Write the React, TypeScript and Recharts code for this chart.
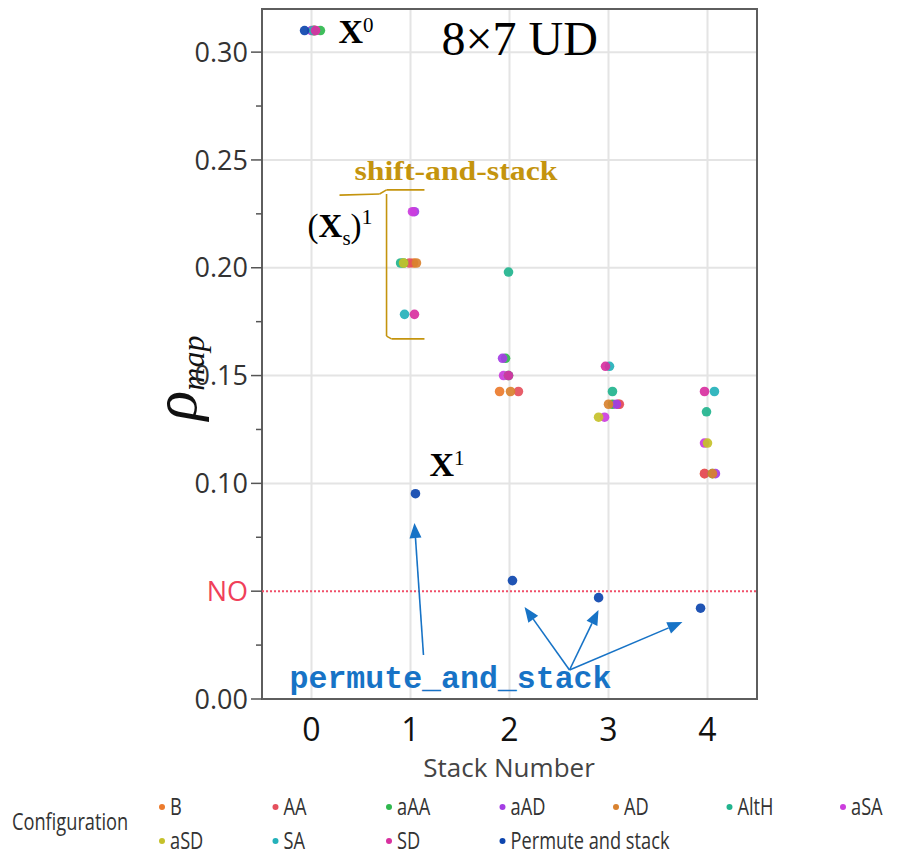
import React from 'react'
import {
  ScatterChart,
  Scatter,
  XAxis,
  YAxis,
  CartesianGrid,
  ReferenceLine,
  ReferenceArea,
  ReferenceDot
} from 'recharts'

// axis ticks
const STACK_TICKS = [0, 1, 2, 3, 4]
const RHO_TICKS = [0, 0.025, 0.05, 0.075, 0.1, 0.125, 0.15, 0.175, 0.2, 0.225, 0.25, 0.275, 0.3]
const RHO_MAJOR = [0, 0.05, 0.1, 0.15, 0.2, 0.25, 0.3]
const RHO_GRID = [0.1, 0.15, 0.2, 0.25, 0.3]
const NO_LEVEL = 0.05

// one point per stack number (x is stack + jitter)
const B = [{ x: 0.02, y: 0.31 }, { x: 1.03, y: 0.2022 }, { x: 1.9, y: 0.1426 }, { x: 3.1, y: 0.1367 }, { x: 3.97, y: 0.1045 }]
const AA = [{ x: 0.03, y: 0.31 }, { x: 0.99, y: 0.2022 }, { x: 2.09, y: 0.1426 }, { x: 3.11, y: 0.1367 }, { x: 3.97, y: 0.1045 }]
const aAA = [{ x: 0.09, y: 0.31 }, { x: 0.93, y: 0.2022 }, { x: 1.96, y: 0.158 }, { x: 3.04, y: 0.1367 }, { x: 4.05, y: 0.1045 }]
const aAD = [{ x: 0.0, y: 0.31 }, { x: 1.04, y: 0.226 }, { x: 1.93, y: 0.158 }, { x: 3.08, y: 0.1367 }, { x: 4.08, y: 0.1045 }]
const AD = [{ x: 0.02, y: 0.31 }, { x: 1.06, y: 0.2022 }, { x: 2.01, y: 0.1426 }, { x: 3.0, y: 0.1367 }, { x: 4.05, y: 0.1045 }]
const AltH = [{ x: 0.03, y: 0.31 }, { x: 0.9, y: 0.2022 }, { x: 1.99, y: 0.198 }, { x: 3.04, y: 0.1426 }, { x: 3.99, y: 0.1332 }]
const aSA = [{ x: 0.04, y: 0.31 }, { x: 1.02, y: 0.226 }, { x: 1.94, y: 0.15 }, { x: 2.96, y: 0.1307 }, { x: 3.97, y: 0.1187 }]
const aSD = [{ x: 0.03, y: 0.31 }, { x: 0.93, y: 0.2022 }, { x: 1.99, y: 0.15 }, { x: 2.9, y: 0.1307 }, { x: 4.0, y: 0.1187 }]
const SA = [{ x: 0.02, y: 0.31 }, { x: 0.94, y: 0.1784 }, { x: 1.99, y: 0.15 }, { x: 3.01, y: 0.1543 }, { x: 4.07, y: 0.1426 }]
const SD = [{ x: 0.04, y: 0.31 }, { x: 1.04, y: 0.1784 }, { x: 1.99, y: 0.15 }, { x: 2.97, y: 0.1543 }, { x: 3.97, y: 0.1426 }]
const PERMUTE = [{ x: -0.07, y: 0.31 }, { x: 1.05, y: 0.0952 }, { x: 2.03, y: 0.0549 }, { x: 2.9, y: 0.047 }, { x: 3.93, y: 0.0421 }]

const SERIES = [
  { name: 'B', color: '#ec7b2c', data: B },
  { name: 'AA', color: '#e5505d', data: AA },
  { name: 'aAA', color: '#2fb84e', data: aAA },
  { name: 'aAD', color: '#a43de4', data: aAD },
  { name: 'AD', color: '#d9822f', data: AD },
  { name: 'AltH', color: '#22b48e', data: AltH },
  { name: 'aSA', color: '#cc3ddd', data: aSA },
  { name: 'aSD', color: '#c5c12a', data: aSD },
  { name: 'SA', color: '#24b1ba', data: SA },
  { name: 'SD', color: '#d8309f', data: SD },
  { name: 'Permute and stack', color: '#0d45ae', data: PERMUTE }
]

// annotation geometry, in data units
const BRACE = [
  [{ x: 0.283, y: 0.2337 }, { x: 0.687, y: 0.2342 }],
  [{ x: 0.687, y: 0.2342 }, { x: 0.758, y: 0.2361 }],
  [{ x: 0.758, y: 0.2361 }, { x: 1.141, y: 0.2361 }],
  [{ x: 0.758, y: 0.2342 }, { x: 0.758, y: 0.1683 }],
  [{ x: 0.758, y: 0.1683 }, { x: 0.808, y: 0.167 }],
  [{ x: 0.808, y: 0.167 }, { x: 1.141, y: 0.167 }]
]
const ARROWS = [
  [{ x: 1.131, y: 0.0204 }, { x: 1.04, y: 0.0816 }],
  [{ x: 2.606, y: 0.01345 }, { x: 2.152, y: 0.0427 }],
  [{ x: 2.606, y: 0.01345 }, { x: 2.899, y: 0.0413 }],
  [{ x: 2.606, y: 0.01345 }, { x: 3.747, y: 0.0357 }]
]

const GOLD = '#c4940e'
const NOTE_BLUE = '#1773c6'
const SERIF = '"Liberation Serif", "Times New Roman", serif'
const SANS = '"Open Sans", "Noto Sans", sans-serif'

function RhoTick({ x, y, payload }: any) {
  const v = payload.value
  const major = RHO_MAJOR.some(m => Math.abs(m - v) < 1e-6)
  const isNo = Math.abs(v - NO_LEVEL) < 1e-6
  return (
    <g>
      <line x1={x - (major ? 11 : 6)} x2={x} y1={y} y2={y} stroke="#555" strokeWidth={1.5} />
      {major && (
        <text x={x - 14} y={y} dy="0.36em" textAnchor="end" fontFamily={SANS} fontSize={27} fill={isNo ? '#f0405a' : '#333'}>
          {isNo ? 'NO' : v.toFixed(2)}
        </text>
      )}
    </g>
  )
}

function StackTick({ x, y, payload }: any) {
  return (
    <text x={x} y={y + 42} textAnchor="middle" fontFamily={SANS} fontSize={32} fill="#111">
      {payload.value}
    </text>
  )
}

function Arrow(props: any) {
  const { x1, y1, x2, y2 } = props
  const ang = Math.atan2(y2 - y1, x2 - x1)
  const len = 15
  const w = 6
  const bx = x2 - len * Math.cos(ang)
  const by = y2 - len * Math.sin(ang)
  const px = -Math.sin(ang) * w
  const py = Math.cos(ang) * w
  return (
    <g>
      <line x1={x1} y1={y1} x2={bx} y2={by} stroke={NOTE_BLUE} strokeWidth={1.6} />
      <polygon points={`${x2},${y2} ${bx + px},${by + py} ${bx - px},${by - py}`} fill={NOTE_BLUE} />
    </g>
  )
}

function Legend() {
  const firstRow = 7
  return (
    <svg width={919} height={66} style={{ position: 'absolute', left: 0, top: 790 }}>
      <text transform="translate(12,40) scale(0.76,1)" fontFamily={SANS} fontSize={24} fill="#333">
        Configuration
      </text>
      {SERIES.map((s, i) => {
        const col = i < firstRow ? i : i - firstRow
        const row = i < firstRow ? 0 : 1
        const cx = 162 + col * 113.5
        const cy = 17 + row * 34
        return (
          <g key={s.name}>
            <circle cx={cx} cy={cy} r={3} fill={s.color} />
            <text transform={`translate(${cx + 8},${cy + 8}) scale(0.76,1)`} fontFamily={SANS} fontSize={24} fill="#333">
              {s.name}
            </text>
          </g>
        )
      })}
    </svg>
  )
}

export default function App() {
  return (
    <div style={{ position: 'absolute', left: 0, top: 0, width: 919, height: 856, background: '#fff' }}>
      <ScatterChart width={919} height={790} margin={{ top: 9, right: 162, bottom: 31, left: 202 }}>
        <CartesianGrid horizontalValues={RHO_GRID} verticalValues={STACK_TICKS} stroke="#e4e4e4" strokeWidth={2} />
        <XAxis
          type="number"
          dataKey="x"
          domain={[-0.5, 4.5]}
          ticks={STACK_TICKS}
          interval={0}
          height={60}
          axisLine={false}
          tickLine={false}
          tickSize={0}
          tickMargin={0}
          tick={<StackTick />}
          label={() => (
            <text x={509} y={777} textAnchor="middle" fontFamily={SANS} fontSize={26} fill="#444">
              Stack Number
            </text>
          )}
        />
        <YAxis
          type="number"
          dataKey="y"
          domain={[0, 0.32]}
          ticks={RHO_TICKS}
          interval={0}
          width={60}
          axisLine={false}
          tickLine={false}
          tickSize={0}
          tickMargin={0}
          tick={<RhoTick />}
          label={() => (
            <text transform="translate(196,378) rotate(-90)" textAnchor="middle" fontFamily={SERIF} fontStyle="italic" fill="#111">
              <tspan fontSize={62}>ρ</tspan>
              <tspan fontSize={32} dy={8}>map</tspan>
            </text>
          )}
        />
        <ReferenceLine y={NO_LEVEL} stroke="#f0506a" strokeWidth={2} strokeDasharray="2 2" />
        <ReferenceArea x1={-0.5} x2={4.5} y1={0} y2={0.32} fill="none" stroke="#5e5e5e" strokeWidth={2} />
        {BRACE.map((seg, i) => (
          <ReferenceLine key={`brace-${i}`} segment={seg} stroke={GOLD} strokeWidth={1.6} />
        ))}
        {SERIES.map(s => (
          <Scatter
            key={s.name}
            name={s.name}
            data={s.data}
            fill={s.color}
            isAnimationActive={false}
            shape={(p: any) => <circle cx={p.cx} cy={p.cy} r={4.8} fill={s.color} fillOpacity={0.92} />}
          />
        ))}
        {ARROWS.map((seg, i) => (
          <ReferenceLine key={`arrow-${i}`} segment={seg} shape={<Arrow />} />
        ))}
        <ReferenceDot
          x={0.273}
          y={0.3042}
          r={0}
          shape={(p: any) => (
            <text x={p.cx} y={p.cy} fontFamily={SERIF} fill="#000">
              <tspan fontWeight="bold" fontSize={34}>X</tspan>
              <tspan fontSize={21} dy={-11}>0</tspan>
            </text>
          )}
        />
        <ReferenceDot
          x={1.313}
          y={0.2987}
          r={0}
          shape={(p: any) => (
            <text x={p.cx} y={p.cy} fontFamily={SERIF} fontSize={48} fill="#000">
              8×7 UD
            </text>
          )}
        />
        <ReferenceDot
          x={0.434}
          y={0.2407}
          r={0}
          shape={(p: any) => (
            <text x={p.cx} y={p.cy} fontFamily={SERIF} fontWeight="bold" fontSize={27} fill={GOLD} textLength={203} lengthAdjust="spacingAndGlyphs">
              shift-and-stack
            </text>
          )}
        />
        <ReferenceDot
          x={-0.04}
          y={0.2143}
          r={0}
          shape={(p: any) => (
            <text x={p.cx} y={p.cy} fontFamily={SERIF} fontSize={33} fill="#000">
              <tspan>(</tspan>
              <tspan fontWeight="bold">X</tspan>
              <tspan fontSize={21} dy={8}>s</tspan>
              <tspan dy={-8}>)</tspan>
              <tspan fontSize={22} dy={-13}>1</tspan>
            </text>
          )}
        />
        <ReferenceDot
          x={1.192}
          y={0.1034}
          r={0}
          shape={(p: any) => (
            <text x={p.cx} y={p.cy} fontFamily={SERIF} fill="#000">
              <tspan fontWeight="bold" fontSize={34}>X</tspan>
              <tspan fontSize={21} dy={-11}>1</tspan>
            </text>
          )}
        />
        <ReferenceDot
          x={-0.222}
          y={0.0051}
          r={0}
          shape={(p: any) => (
            <text x={p.cx} y={p.cy} fontFamily='"Liberation Mono", "Courier New", monospace' fontWeight="bold" fontSize={31} fill={NOTE_BLUE} textLength={322} lengthAdjust="spacingAndGlyphs">
              permute_and_stack
            </text>
          )}
        />
      </ScatterChart>
      <Legend />
    </div>
  )
}
